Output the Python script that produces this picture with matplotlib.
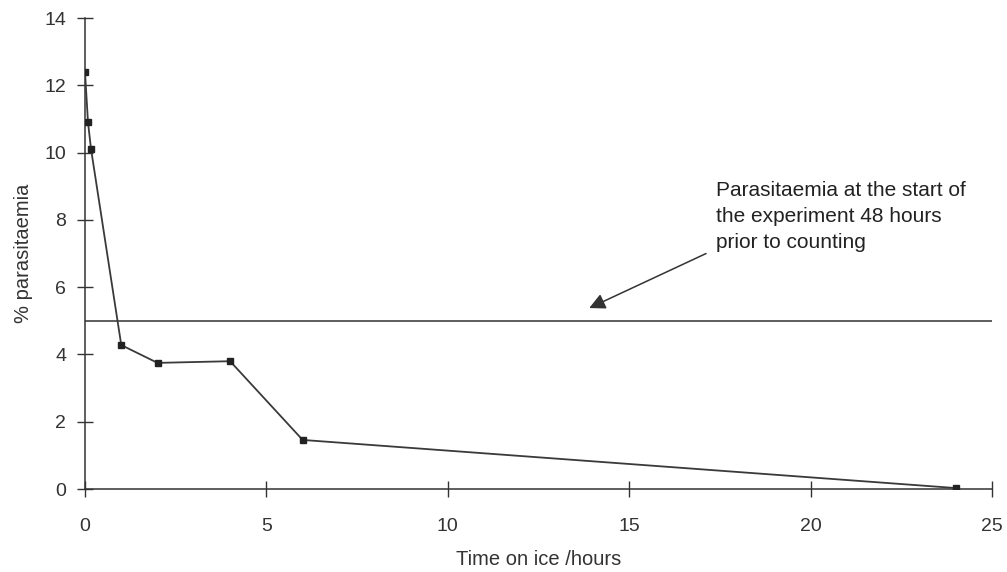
import matplotlib.pyplot as plt

# parasitaemia after time on ice
hours = [0, 0.083, 0.167, 1, 2, 4, 6, 24]
parasitaemia = [12.4, 10.9, 10.1, 4.28, 3.75, 3.8, 1.46, 0.03]
start_level = 5.0

plt.rcParams['font.family'] = ['Liberation Sans', 'DejaVu Sans']

fig = plt.figure(figsize=(10.07, 5.72), dpi=100)
ax = fig.add_axes([0.0844, 0.145, 0.9006, 0.8235])

ax.plot(hours, parasitaemia, color='#3a3a3a', lw=1.3, marker='s', ms=5,
        mfc='#222222', mec='#222222', zorder=3)
ax.plot([0, 25], [start_level, start_level], color='#333333', lw=1.1)

ax.text(17.4, 9.15, 'Parasitaemia at the start of\nthe experiment 48 hours\nprior to counting',
        fontsize=15, color='#222222', linespacing=1.45, va='top', ha='left')
ax.annotate('', xy=(13.9, 5.38), xytext=(17.12, 7.0),
            arrowprops=dict(arrowstyle='-|>', color='#333333', lw=1.1,
                            mutation_scale=24, shrinkA=0, shrinkB=0))

ax.set_xlim(0, 25)
ax.set_ylim(0, 14)
ax.set_xticks(range(0, 26, 5))
ax.set_yticks(range(0, 15, 2))
ax.spines['top'].set_visible(False)
ax.spines['right'].set_visible(False)
for s in ('left', 'bottom'):
    ax.spines[s].set_color('#333333')
    ax.spines[s].set_linewidth(1.1)
ax.tick_params(direction='inout', length=11, width=1, colors='#333333',
               labelsize=14, labelcolor='#333333')
ax.tick_params(axis='x', pad=15)
ax.tick_params(axis='y', pad=8)
ax.set_xlabel('Time on ice /hours', fontsize=14.5, color='#333333', labelpad=11)
ax.set_ylabel('% parasitaemia', fontsize=14.5, color='#333333', labelpad=8)

fig.savefig('out.png', dpi=100, facecolor='white')
